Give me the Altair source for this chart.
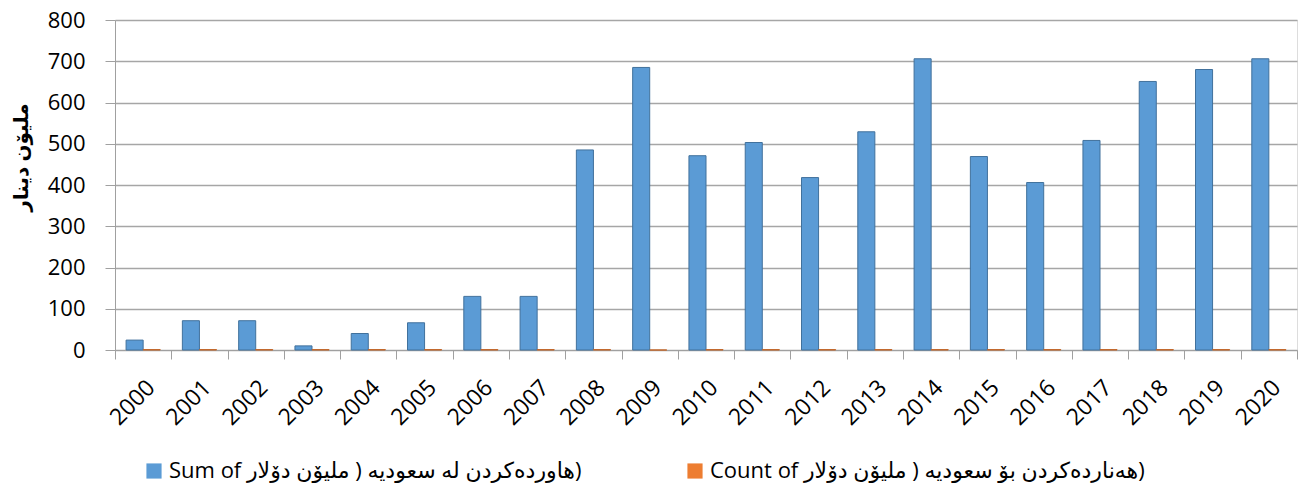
import altair as alt
import pandas as pd

years = [str(y) for y in range(2000, 2021)]
imports_sum = [24, 71, 71, 10, 40, 66, 130, 130, 485, 685, 471, 503, 418, 529, 706, 469, 406, 508, 651, 680, 706]
exports_count = [1, 1, 1, 1, 1, 1, 1, 1, 1, 0, 1, 1, 1, 1, 1, 1, 1, 1, 1, 1, 1]

# closing bracket isolated so it does not pair with the inner "(" (Excel-style bidi display)
s1 = "Sum of هاوردەکردن له سعودیه ( ملیۆن دۆلار\u2066)\u2069"
s2 = "Count of هەناردەکردن بۆ سعودیه ( ملیۆن دۆلار\u2066)\u2069"
series = [s1, s2]
y_title = "ملیۆن دینار"
y_ticks = [0, 100, 200, 300, 400, 500, 600, 700, 800]

rows = []
for i, y in enumerate(years):
    rows.append({"year": y, "series": s1, "value": imports_sum[i]})
    rows.append({"year": y, "series": s2, "value": exports_count[i]})
df = pd.DataFrame(rows)

FONT = "Open Sans, DejaVu Sans"

chart = alt.Chart(df).mark_bar(strokeWidth=1).encode(
    x=alt.X("year:N", sort=years, title=None,
            scale=alt.Scale(paddingInner=0, paddingOuter=0),
            axis=alt.Axis(labelAngle=315, labelAlign="right", labelBaseline="top",
                          labelPadding=17, tickSize=9, tickBand="extent",
                          labelFontSize=23, labelColor="#000000", labelFont=FONT,
                          domainColor="#A0A0A0", tickColor="#A0A0A0", grid=False)),
    xOffset=alt.XOffset("series:N", sort=series,
                        scale=alt.Scale(paddingInner=0, paddingOuter=0.65)),
    y=alt.Y("value:Q", title=y_title,
            scale=alt.Scale(domain=[0, 800], nice=False),
            axis=alt.Axis(values=y_ticks, tickSize=10, labelPadding=20,
                          labelFontSize=22, labelColor="#000000", labelFont=FONT,
                          titleFontSize=20, titleFont=FONT, titleFontWeight="bold",
                          titleColor="#000000", titleAngle=270, titleX=-94, titleY=137,
                          titleAlign="center", titleBaseline="middle",
                          domainColor="#A0A0A0", tickColor="#A0A0A0",
                          gridColor="#A6A6A6", gridWidth=1.5)),
    color=alt.Color("series:N", sort=series, title=None,
                    scale=alt.Scale(domain=series, range=["#5B9BD5", "#ED7D31"]),
                    legend=alt.Legend(orient="none", legendX=28, legendY=440,
                                      direction="horizontal", symbolType="square",
                                      symbolSize=230, labelFontSize=22, labelFont=FONT,
                                      labelColor="#000000", labelLimit=1000,
                                      columnPadding=102, symbolOpacity=1,
                                      symbolStrokeWidth=0)),
    stroke=alt.Stroke("series:N", sort=series, legend=None,
                      scale=alt.Scale(domain=series, range=["#41719C", "#C0662A"])),
).properties(
    width=1182, height=330,
    autosize=alt.AutoSizeParams(type="none"),
    padding={"left": 107, "top": 12, "right": 2, "bottom": 134},
).configure_view(
    fill="#E6E6E6", stroke=None
).configure(background="#FFFFFF")

chart.save("out.html", embed_options={"renderer": "svg", "actions": False})
